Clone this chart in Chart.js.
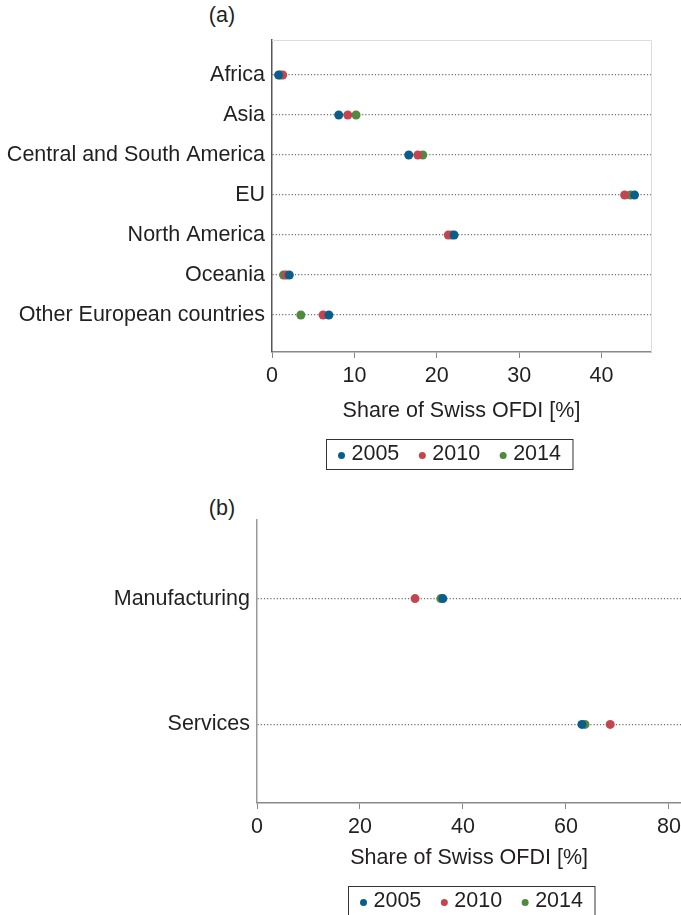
<!DOCTYPE html>
<html>
<head>
<meta charset="utf-8">
<script src="https://cdn.jsdelivr.net/npm/chart.js@4"></script>
<style>
  body { margin: 0; background: #fff; width: 681px; height: 915px; position: relative; overflow: hidden; }
  .panel { position: absolute; left: 0; width: 681px; }
  .tag { position: absolute; font: 21.5px "Liberation Sans", Arial, sans-serif; color: #231f20; transform: translate(-50%, -50%); }
</style>
</head>
<body>
<div class="tag" style="left:222px; top:15px;">(a)</div>
<div class="panel" style="top:0; height:480px;"><canvas id="region-chart"></canvas></div>
<div class="tag" style="left:222px; top:508px;">(b)</div>
<div class="panel" style="top:490px; height:425px; width:686px;"><canvas id="sector-chart"></canvas></div>
<script>
const years = ["2005", "2010", "2014"];
const colors = ["#0b5e8c", "#c4454f", "#4f8a3e"];

// panel (a): share by region
const regions = [
  "Africa",
  "Asia",
  "Central and South America",
  "EU",
  "North America",
  "Oceania",
  "Other European countries",
];
const region2005 = [0.8, 8.1, 16.6, 44.0, 22.1, 2.1, 6.9];
const region2010 = [1.3, 9.2, 17.7, 42.8, 21.4, 1.7, 6.2];
const region2014 = [1.0, 10.2, 18.3, 43.5, 21.8, 1.4, 3.5];

// panel (b): share by sector
const sectors = ["Manufacturing", "Services"];
const sector2005 = [36.1, 63.1];
const sector2010 = [30.7, 68.6];
const sector2014 = [35.7, 63.7];

const FONT = { family: "'Liberation Sans', Arial, sans-serif", size: 21.5 };
const TEXT = "#231f20";

const toPoints = (vals) => vals.map((v, i) => ({ x: v, y: i }));

// boxed legend below the axis title + light frame on top/right
const boxLegend = {
  id: "boxLegend",
  afterDraw(chart, args, opts) {
    const ctx = chart.ctx;
    if (opts.frame) {
      const { top, right, bottom, left } = chart.chartArea;
      ctx.save();
      ctx.strokeStyle = "#dcdcdc";
      ctx.lineWidth = 1;
      ctx.beginPath();
      ctx.moveTo(left, top + 0.5);
      ctx.lineTo(right + 0.5, top + 0.5);
      ctx.lineTo(right + 0.5, bottom);
      ctx.stroke();
      ctx.restore();
    }
    ctx.save();
    ctx.font = `${FONT.size}px ${FONT.family}`;
    ctx.textBaseline = "middle";
    const items = chart.data.datasets.map((d) => ({
      label: d.label,
      color: d.backgroundColor,
      w: ctx.measureText(d.label).width,
    }));
    const dotGap = 13, itemGap = 20, padX = 12;
    let total = padX * 2;
    items.forEach((it, i) => (total += dotGap + it.w + (i < items.length - 1 ? itemGap : 0)));
    const left = Math.round(opts.centerX - total / 2) + 0.5;
    const top = opts.top + 0.5;
    ctx.strokeStyle = "#333";
    ctx.lineWidth = 1;
    ctx.strokeRect(left, top, total, opts.height);
    const cy = top + opts.height / 2;
    let x = left + padX;
    items.forEach((it) => {
      ctx.fillStyle = it.color;
      ctx.beginPath();
      ctx.arc(x + 3, cy + 1, 3.5, 0, Math.PI * 2);
      ctx.fill();
      ctx.fillStyle = TEXT;
      ctx.fillText(it.label, x + dotGap, cy);
      x += dotGap + it.w + itemGap;
    });
    ctx.restore();
  },
};

const makeChart = (id, cats, series, cfg) => {
  const ctx = document.getElementById(id);
  new Chart(ctx, {
    type: "scatter",
    data: {
      datasets: series.map((vals, i) => ({
        label: years[i],
        data: toPoints(vals),
        backgroundColor: colors[i],
        borderColor: colors[i],
        borderWidth: 0,
        pointRadius: 4.5,
        pointHoverRadius: 4.5,
        clip: false,
      })),
    },
    options: {
      responsive: true,
      maintainAspectRatio: false,
      animation: false,
      layout: { padding: { top: cfg.padTop, right: cfg.padRight, bottom: cfg.padBottom, left: 0 } },
      plugins: {
        legend: { display: false },
        tooltip: { enabled: false },
        boxLegend: cfg.legend,
      },
      scales: {
        x: {
          type: "linear",
          min: 0,
          max: cfg.xMax,
          afterBuildTicks: (scale) => {
            const ticks = [];
            for (let v = 0; v <= cfg.xMax; v += cfg.xStep) ticks.push({ value: v });
            scale.ticks = ticks;
          },
          afterFit: (scale) => {
            scale.height = 80;
          },
          ticks: { color: TEXT, font: FONT, padding: 5 },
          grid: { drawOnChartArea: false, drawTicks: true, tickLength: 6, color: "#888" },
          border: { color: "#888", width: 1.5 },
          title: {
            display: true,
            text: "Share of Swiss OFDI [%]",
            color: TEXT,
            font: FONT,
            padding: { top: 4, bottom: cfg.titlePad },
          },
        },
        y: {
          type: "linear",
          reverse: true,
          min: cfg.yMin,
          max: cfg.yMax,
          afterBuildTicks: (scale) => {
            scale.ticks = cats.map((c, i) => ({ value: i }));
          },
          afterFit: (scale) => {
            scale.width = cfg.yWidth;
          },
          ticks: {
            color: TEXT,
            font: FONT,
            padding: 7,
            callback: (v) => cats[v],
          },
          grid: { drawTicks: false, color: "#707070", lineWidth: 1.2 },
          border: { color: cfg.axisColor, width: 1.5, dash: [1.2, 2] },
        },
      },
    },
    plugins: [boxLegend],
  });
};

makeChart("region-chart", regions, [region2005, region2010, region2014], {
  padTop: 40,
  padRight: 30,
  padBottom: 48,
  xMax: 46,
  xStep: 10,
  yMin: -0.875,
  yMax: 6.925,
  yWidth: 272,
  titlePad: 8,
  axisColor: "#555",
  legend: { centerX: 449.5, top: 439, height: 30, frame: true },
});

makeChart("sector-chart", sectors, [sector2005, sector2010, sector2014], {
  padTop: 30,
  padRight: 0,
  padBottom: 32,
  xMax: 82.4,
  xStep: 20,
  yMin: -0.625,
  yMax: 1.625,
  yWidth: 257,
  titlePad: 12,
  axisColor: "#999",
  legend: { centerX: 471.5, top: 396, height: 30, frame: false },
});
</script>
</body>
</html>
